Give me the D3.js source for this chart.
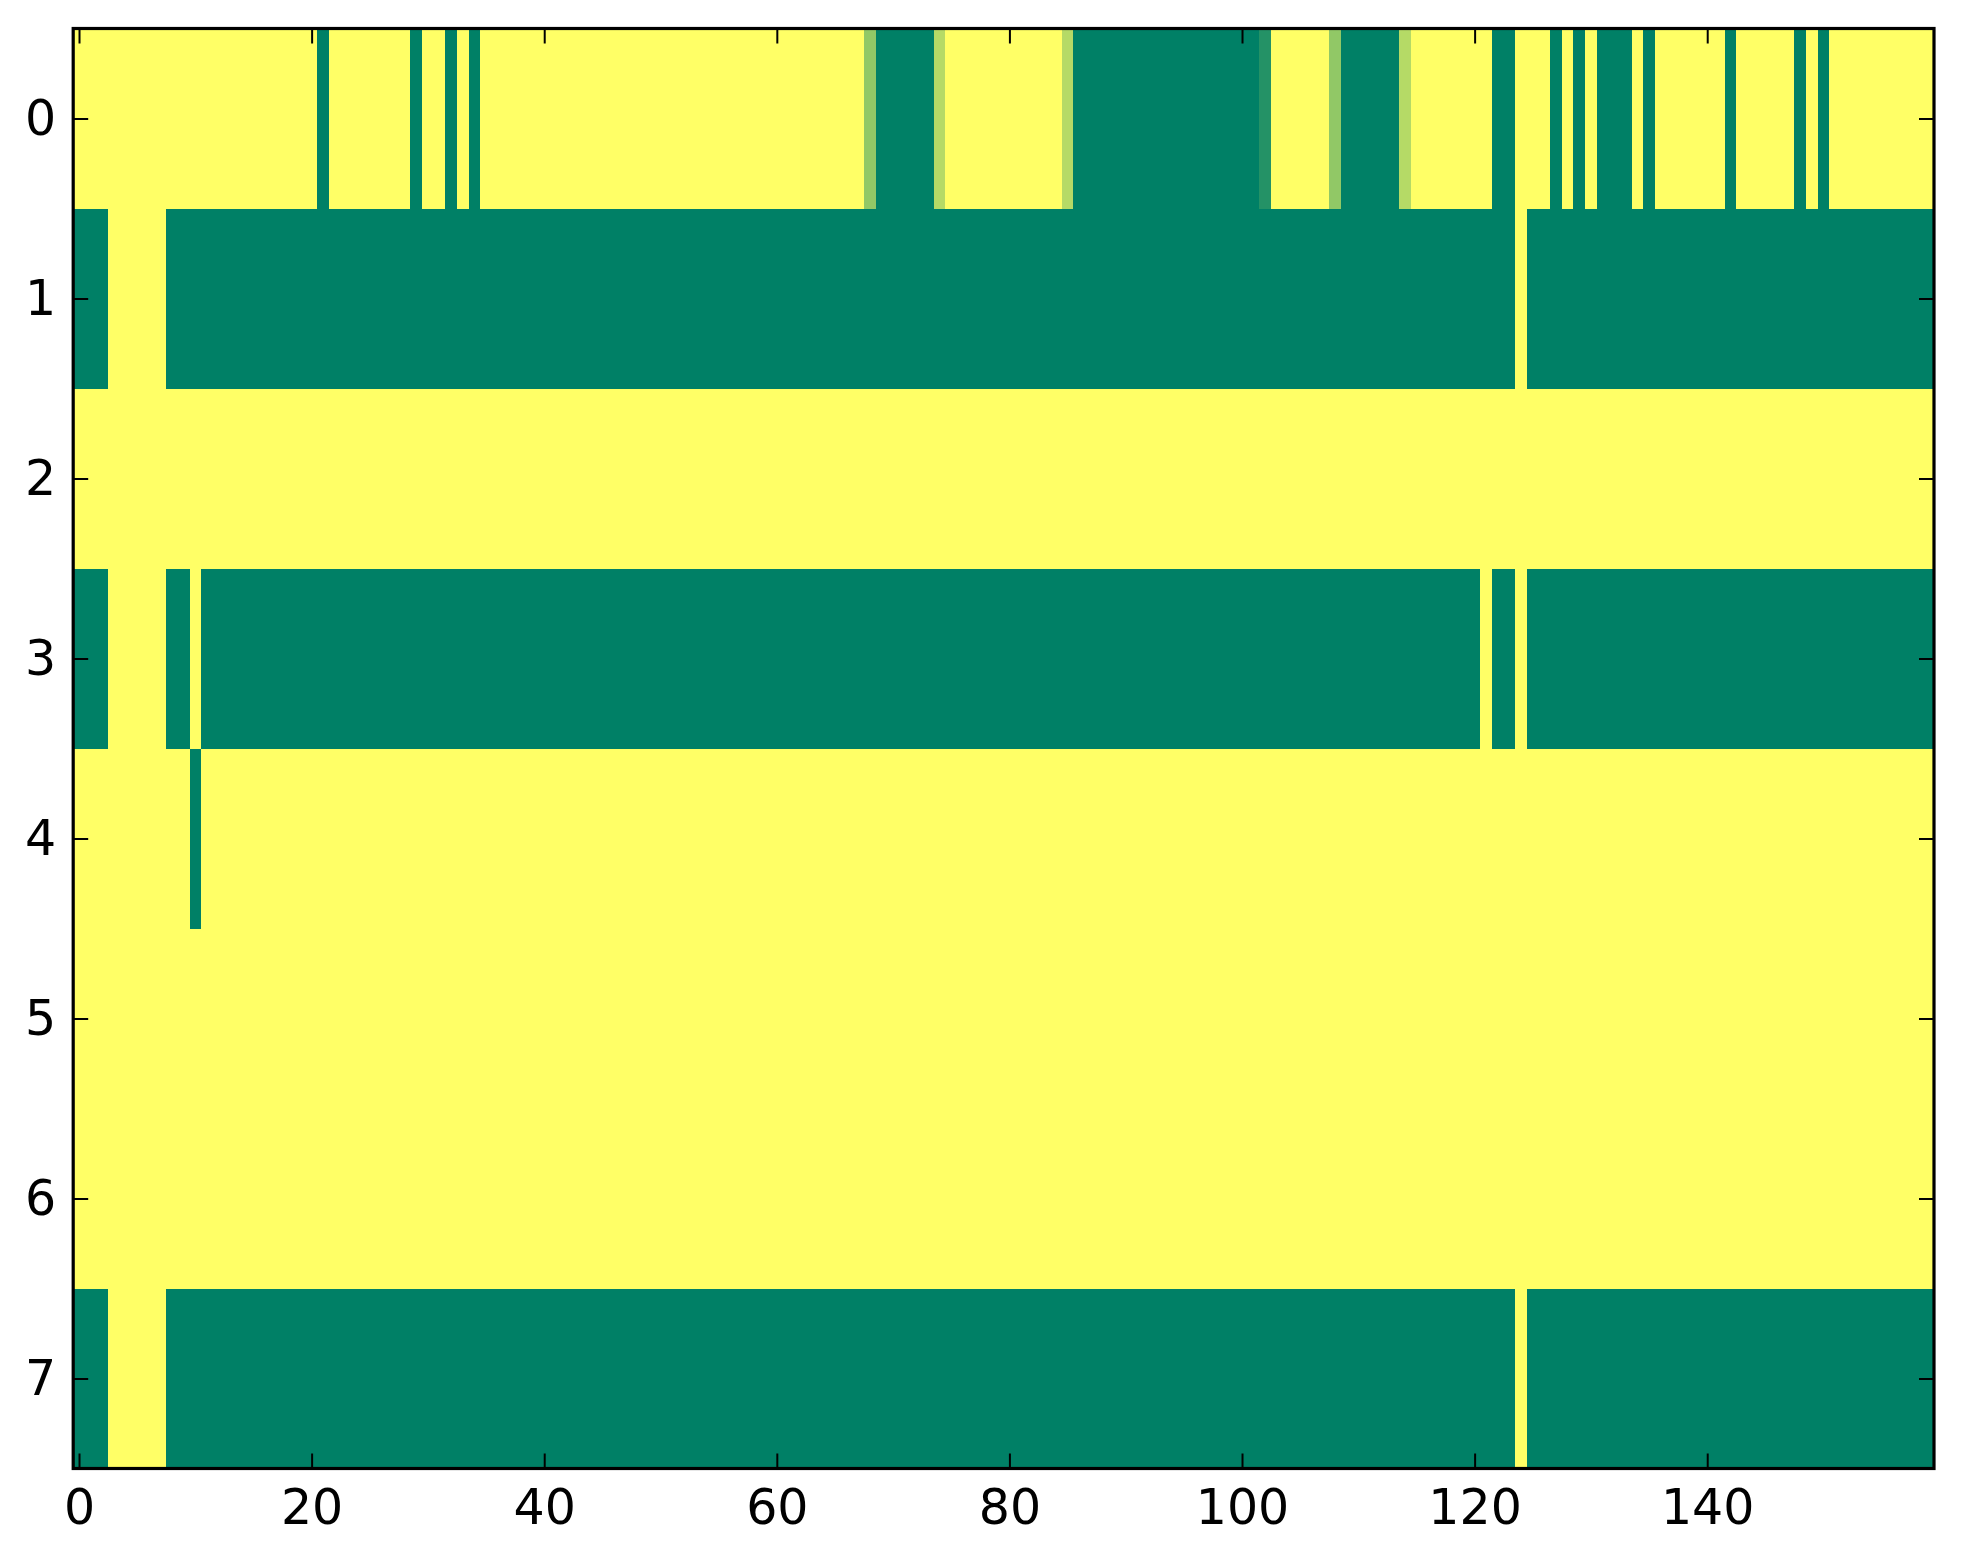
<!DOCTYPE html>
<html>
<head>
<meta charset="utf-8">
<script src="https://cdn.jsdelivr.net/npm/d3@7"></script>
<style>
  html, body { margin: 0; padding: 0; background: #ffffff; }
  svg { display: block; }
  text { font-family: "DejaVu Sans", sans-serif; }
</style>
</head>
<body>
<svg id="chart" width="1963" height="1564"></svg>
<script>
// ---- data (value 0 = green, 1 = yellow, summer colormap) ----
const row0 = [
  1,1,1,1,1,1,1,1,1,1, 1,1,1,1,1,1,1,1,1,1,
  1,0,1,1,1,1,1,1,1,0, 1,1,0,1,0,1,1,1,1,1,
  1,1,1,1,1,1,1,1,1,1, 1,1,1,1,1,1,1,1,1,1,
  1,1,1,1,1,1,1,1,0.57,0, 0,0,0,0,0.71,1,1,1,1,1,
  1,1,1,1,1,0.71,0,0,0,0, 0,0,0,0,0,0,0,0,0,0,
  0,0,0.14,1,1,1,1,1,0.57,0, 0,0,0,0,0.71,1,1,1,1,1,
  1,1,0,0,1,1,1,0,1,0, 1,0,0,0,1,0,1,1,1,1,
  1,1,0,1,1,1,1,1,0,1, 0,1,1,1,1,1,1,1,1,1
];
const row1 = [
  0,0,0,1,1,1,1,1,0,0, 0,0,0,0,0,0,0,0,0,0,
  0,0,0,0,0,0,0,0,0,0, 0,0,0,0,0,0,0,0,0,0,
  0,0,0,0,0,0,0,0,0,0, 0,0,0,0,0,0,0,0,0,0,
  0,0,0,0,0,0,0,0,0,0, 0,0,0,0,0,0,0,0,0,0,
  0,0,0,0,0,0,0,0,0,0, 0,0,0,0,0,0,0,0,0,0,
  0,0,0,0,0,0,0,0,0,0, 0,0,0,0,0,0,0,0,0,0,
  0,0,0,0,1,0,0,0,0,0, 0,0,0,0,0,0,0,0,0,0,
  0,0,0,0,0,0,0,0,0,0, 0,0,0,0,0,0,0,0,0,0
];
const row2 = [
  1,1,1,1,1,1,1,1,1,1, 1,1,1,1,1,1,1,1,1,1,
  1,1,1,1,1,1,1,1,1,1, 1,1,1,1,1,1,1,1,1,1,
  1,1,1,1,1,1,1,1,1,1, 1,1,1,1,1,1,1,1,1,1,
  1,1,1,1,1,1,1,1,1,1, 1,1,1,1,1,1,1,1,1,1,
  1,1,1,1,1,1,1,1,1,1, 1,1,1,1,1,1,1,1,1,1,
  1,1,1,1,1,1,1,1,1,1, 1,1,1,1,1,1,1,1,1,1,
  1,1,1,1,1,1,1,1,1,1, 1,1,1,1,1,1,1,1,1,1,
  1,1,1,1,1,1,1,1,1,1, 1,1,1,1,1,1,1,1,1,1
];
const row3 = [
  0,0,0,1,1,1,1,1,0,0, 1,0,0,0,0,0,0,0,0,0,
  0,0,0,0,0,0,0,0,0,0, 0,0,0,0,0,0,0,0,0,0,
  0,0,0,0,0,0,0,0,0,0, 0,0,0,0,0,0,0,0,0,0,
  0,0,0,0,0,0,0,0,0,0, 0,0,0,0,0,0,0,0,0,0,
  0,0,0,0,0,0,0,0,0,0, 0,0,0,0,0,0,0,0,0,0,
  0,0,0,0,0,0,0,0,0,0, 0,0,0,0,0,0,0,0,0,0,
  0,1,0,0,1,0,0,0,0,0, 0,0,0,0,0,0,0,0,0,0,
  0,0,0,0,0,0,0,0,0,0, 0,0,0,0,0,0,0,0,0,0
];
const row4 = [
  1,1,1,1,1,1,1,1,1,1, 0,1,1,1,1,1,1,1,1,1,
  1,1,1,1,1,1,1,1,1,1, 1,1,1,1,1,1,1,1,1,1,
  1,1,1,1,1,1,1,1,1,1, 1,1,1,1,1,1,1,1,1,1,
  1,1,1,1,1,1,1,1,1,1, 1,1,1,1,1,1,1,1,1,1,
  1,1,1,1,1,1,1,1,1,1, 1,1,1,1,1,1,1,1,1,1,
  1,1,1,1,1,1,1,1,1,1, 1,1,1,1,1,1,1,1,1,1,
  1,1,1,1,1,1,1,1,1,1, 1,1,1,1,1,1,1,1,1,1,
  1,1,1,1,1,1,1,1,1,1, 1,1,1,1,1,1,1,1,1,1
];
const row5 = [
  1,1,1,1,1,1,1,1,1,1, 1,1,1,1,1,1,1,1,1,1,
  1,1,1,1,1,1,1,1,1,1, 1,1,1,1,1,1,1,1,1,1,
  1,1,1,1,1,1,1,1,1,1, 1,1,1,1,1,1,1,1,1,1,
  1,1,1,1,1,1,1,1,1,1, 1,1,1,1,1,1,1,1,1,1,
  1,1,1,1,1,1,1,1,1,1, 1,1,1,1,1,1,1,1,1,1,
  1,1,1,1,1,1,1,1,1,1, 1,1,1,1,1,1,1,1,1,1,
  1,1,1,1,1,1,1,1,1,1, 1,1,1,1,1,1,1,1,1,1,
  1,1,1,1,1,1,1,1,1,1, 1,1,1,1,1,1,1,1,1,1
];
const row6 = [
  1,1,1,1,1,1,1,1,1,1, 1,1,1,1,1,1,1,1,1,1,
  1,1,1,1,1,1,1,1,1,1, 1,1,1,1,1,1,1,1,1,1,
  1,1,1,1,1,1,1,1,1,1, 1,1,1,1,1,1,1,1,1,1,
  1,1,1,1,1,1,1,1,1,1, 1,1,1,1,1,1,1,1,1,1,
  1,1,1,1,1,1,1,1,1,1, 1,1,1,1,1,1,1,1,1,1,
  1,1,1,1,1,1,1,1,1,1, 1,1,1,1,1,1,1,1,1,1,
  1,1,1,1,1,1,1,1,1,1, 1,1,1,1,1,1,1,1,1,1,
  1,1,1,1,1,1,1,1,1,1, 1,1,1,1,1,1,1,1,1,1
];
const row7 = [
  0,0,0,1,1,1,1,1,0,0, 0,0,0,0,0,0,0,0,0,0,
  0,0,0,0,0,0,0,0,0,0, 0,0,0,0,0,0,0,0,0,0,
  0,0,0,0,0,0,0,0,0,0, 0,0,0,0,0,0,0,0,0,0,
  0,0,0,0,0,0,0,0,0,0, 0,0,0,0,0,0,0,0,0,0,
  0,0,0,0,0,0,0,0,0,0, 0,0,0,0,0,0,0,0,0,0,
  0,0,0,0,0,0,0,0,0,0, 0,0,0,0,0,0,0,0,0,0,
  0,0,0,0,1,0,0,0,0,0, 0,0,0,0,0,0,0,0,0,0,
  0,0,0,0,0,0,0,0,0,0, 0,0,0,0,0,0,0,0,0,0
];
const rows = [row0, row1, row2, row3, row4, row5, row6, row7];
const xTicks = [0, 20, 40, 60, 80, 100, 120, 140];
const yTicks = [0, 1, 2, 3, 4, 5, 6, 7];

(function () {
  // ---- layout ----
  const plotLeft = 73.2, plotRight = 1934, plotTop = 28.5, plotBottom = 1468.5;
  const nCols = row0.length, nRows = rows.length;

  const svg = d3.select("#chart");
  const x = d3.scaleLinear().domain([-0.5, nCols - 0.5]).range([plotLeft, plotRight]);
  const y = d3.scaleLinear().domain([-0.5, nRows - 0.5]).range([plotTop, plotBottom]);
  // matplotlib "summer": r = v, g = 0.5 + 0.5 v, b = 0.4
  const color = d3.scaleLinear().domain([0, 1]).range(["#008066", "#ffff66"]).interpolate(d3.interpolateRgb);

  const cells = [];
  rows.forEach((r, i) => r.forEach((v, j) => cells.push({ i, j, v })));

  svg.append("g")
    .selectAll("rect")
    .data(cells)
    .join("rect")
    .attr("x", d => x(d.j - 0.5))
    .attr("y", d => y(d.i - 0.5))
    .attr("width", d => x(d.j + 0.5) - x(d.j - 0.5) + 0.4)
    .attr("height", d => y(d.i + 0.5) - y(d.i - 0.5) + 0.4)
    .attr("fill", d => color(d.v))
    .attr("shape-rendering", "crispEdges");

  const fontSize = 49;
  const tickLen = 15;

  function styleAxis(g) {
    g.select(".domain").remove();
    g.selectAll(".tick line").attr("stroke", "#000").attr("stroke-width", 2);
    g.selectAll(".tick text")
      .attr("fill", "#000")
      .style("font-family", "'DejaVu Sans', sans-serif")
      .style("font-size", fontSize + "px");
  }

  svg.append("g")
    .attr("transform", `translate(0,${plotBottom})`)
    .call(d3.axisBottom(x).tickValues(xTicks).tickFormat(d3.format("d"))
      .tickSizeInner(-tickLen).tickSizeOuter(0).tickPadding(21))
    .call(styleAxis);

  svg.append("g")
    .attr("transform", `translate(0,${plotTop})`)
    .call(d3.axisTop(x).tickValues(xTicks).tickFormat("")
      .tickSizeInner(-tickLen).tickSizeOuter(0))
    .call(styleAxis);

  svg.append("g")
    .attr("transform", `translate(${plotLeft},0)`)
    .call(d3.axisLeft(y).tickValues(yTicks).tickFormat(d3.format("d"))
      .tickSizeInner(-tickLen).tickSizeOuter(0).tickPadding(17))
    .call(styleAxis);

  svg.append("g")
    .attr("transform", `translate(${plotRight},0)`)
    .call(d3.axisRight(y).tickValues(yTicks).tickFormat("")
      .tickSizeInner(-tickLen).tickSizeOuter(0))
    .call(styleAxis);

  // frame (spines)
  svg.append("rect")
    .attr("x", plotLeft).attr("y", plotTop)
    .attr("width", plotRight - plotLeft).attr("height", plotBottom - plotTop)
    .attr("fill", "none").attr("stroke", "#000").attr("stroke-width", 3.2);
})();
</script>
</body>
</html>
